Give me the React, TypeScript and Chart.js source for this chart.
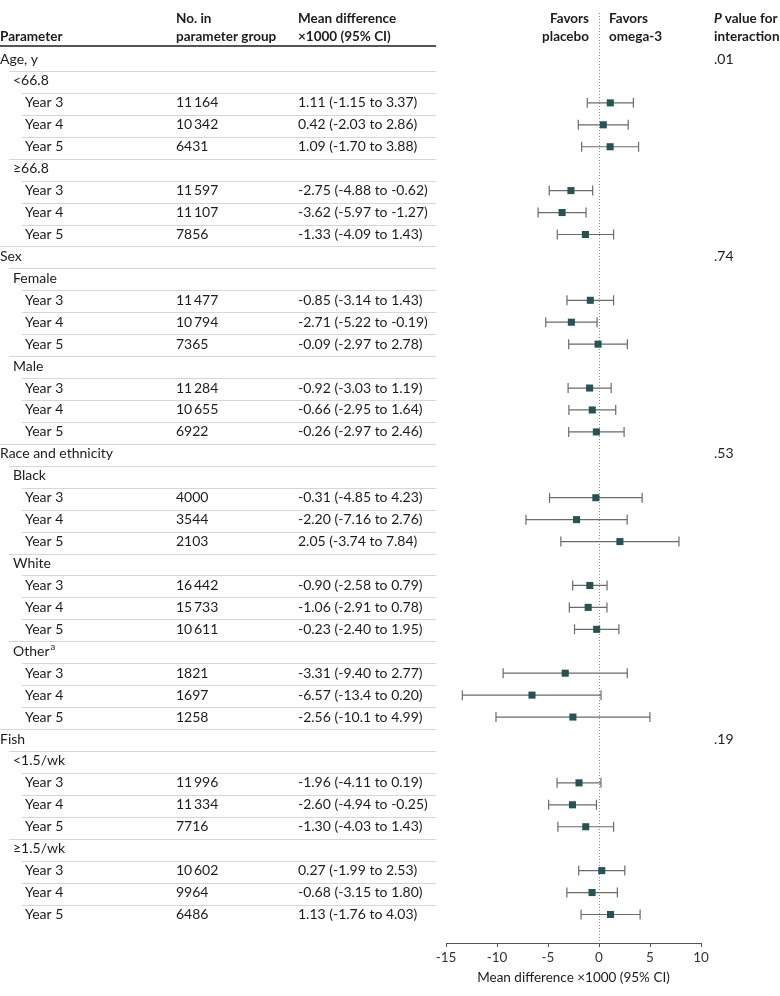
import React, { useEffect, useRef } from "react";
import { Chart, registerables } from "chart.js";

Chart.register(...registerables);

// ---------- data ----------
const rowLabels: string[] = [
  "Age, y", "<66.8", "Year 3", "Year 4", "Year 5", "≥66.8", "Year 3", "Year 4", "Year 5",
  "Sex", "Female", "Year 3", "Year 4", "Year 5", "Male", "Year 3", "Year 4", "Year 5",
  "Race and ethnicity", "Black", "Year 3", "Year 4", "Year 5", "White", "Year 3", "Year 4", "Year 5",
  "Other", "Year 3", "Year 4", "Year 5",
  "Fish", "<1.5/wk", "Year 3", "Year 4", "Year 5", "≥1.5/wk", "Year 3", "Year 4", "Year 5",
];
const rowLevels: number[] = [
  0, 1, 2, 2, 2, 1, 2, 2, 2,
  0, 1, 2, 2, 2, 1, 2, 2, 2,
  0, 1, 2, 2, 2, 1, 2, 2, 2,
  1, 2, 2, 2,
  0, 1, 2, 2, 2, 1, 2, 2, 2,
];
const rowSuperscripts: (string | null)[] = rowLabels.map((l, i) => (i === 27 ? "a" : null));
const groupN: (number | null)[] = [
  null, null, 11164, 10342, 6431, null, 11597, 11107, 7856,
  null, null, 11477, 10794, 7365, null, 11284, 10655, 6922,
  null, null, 4000, 3544, 2103, null, 16442, 15733, 10611,
  null, 1821, 1697, 1258,
  null, null, 11996, 11334, 7716, null, 10602, 9964, 6486,
];
const meanDiff: (number | null)[] = [
  null, null, 1.11, 0.42, 1.09, null, -2.75, -3.62, -1.33,
  null, null, -0.85, -2.71, -0.09, null, -0.92, -0.66, -0.26,
  null, null, -0.31, -2.2, 2.05, null, -0.9, -1.06, -0.23,
  null, -3.31, -6.57, -2.56,
  null, null, -1.96, -2.6, -1.3, null, 0.27, -0.68, 1.13,
];
const ciLow: (number | null)[] = [
  null, null, -1.15, -2.03, -1.7, null, -4.88, -5.97, -4.09,
  null, null, -3.14, -5.22, -2.97, null, -3.03, -2.95, -2.97,
  null, null, -4.85, -7.16, -3.74, null, -2.58, -2.91, -2.4,
  null, -9.4, -13.4, -10.1,
  null, null, -4.11, -4.94, -4.03, null, -1.99, -3.15, -1.76,
];
const ciHigh: (number | null)[] = [
  null, null, 3.37, 2.86, 3.88, null, -0.62, -1.27, 1.43,
  null, null, 1.43, -0.19, 2.78, null, 1.19, 1.64, 2.46,
  null, null, 4.23, 2.76, 7.84, null, 0.79, 0.78, 1.95,
  null, 2.77, 0.2, 4.99,
  null, null, 0.19, -0.25, 1.43, null, 2.53, 1.8, 4.03,
];
const pInteraction: (string | null)[] = rowLabels.map(() => null);
pInteraction[0] = ".01";
pInteraction[9] = ".74";
pInteraction[18] = ".53";
pInteraction[31] = ".19";

const xTickValues: number[] = [-15, -10, -5, 0, 5, 10];
const xAxisTitle = "Mean difference ×1000 (95% CI)";

// ---------- styling ----------
const FONT = "Lato, 'Open Sans', 'DejaVu Sans', sans-serif";
const TEXT = "#1e1b1c";
const MARK = "#255452";
const BAR = "#6b6b6b";
const BODY_PX = 14;

const fmtVal = (v: number) => (Math.abs(v) >= 10 ? v.toFixed(1) : v.toFixed(2));
const fmtN = (n: number) => {
  const s = String(n);
  return s.length > 4 ? s.slice(0, s.length - 3) + "\u2009" + s.slice(s.length - 3) : s;
};

const indentX = [0, 13, 25];
const lineStartX = [0, 9, 22];

const forestPlugin = {
  id: "forestTable",
  beforeDatasetsDraw(chart: any) {
    const ctx: CanvasRenderingContext2D = chart.ctx;
    const xs = chart.scales.x;
    const ys = chart.scales.y;
    const area = chart.chartArea;
    ctx.save();

    // header texts
    ctx.fillStyle = TEXT;
    ctx.textBaseline = "middle";
    ctx.font = `bold 13.5px ${FONT}`;
    ctx.textAlign = "left";
    ctx.fillText("Parameter", 0, 37);
    ctx.fillText("No. in", 176, 19);
    ctx.fillText("parameter group", 176, 37);
    ctx.fillText("Mean difference", 298, 19);
    ctx.fillText("×1000 (95% CI)", 298, 37);
    const x0 = xs.getPixelForValue(0);
    ctx.textAlign = "right";
    ctx.fillText("Favors", x0 - 10, 19);
    ctx.fillText("placebo", x0 - 10, 37);
    ctx.textAlign = "left";
    ctx.fillText("Favors", x0 + 10, 19);
    ctx.fillText("omega-3", x0 + 10, 37);
    ctx.font = `italic bold 13.5px ${FONT}`;
    ctx.fillText("P", 714, 19);
    const pw = ctx.measureText("P ").width;
    ctx.font = `bold 13.5px ${FONT}`;
    ctx.fillText("value for", 714 + pw, 19);
    ctx.fillText("interaction", 714, 37);

    // header rule
    ctx.strokeStyle = "#555";
    ctx.lineWidth = 2;
    ctx.beginPath();
    ctx.moveTo(0, 46);
    ctx.lineTo(436, 46);
    ctx.stroke();

    // row separators
    ctx.strokeStyle = "#d8d8cf";
    ctx.lineWidth = 1;
    for (let i = 0; i < rowLabels.length - 1; i++) {
      const yy = Math.round((ys.getPixelForValue(i) + ys.getPixelForValue(i + 1)) / 2 + 1) + 0.5;
      ctx.beginPath();
      ctx.moveTo(lineStartX[rowLevels[i + 1]], yy);
      ctx.lineTo(436, yy);
      ctx.stroke();
    }

    // row texts
    ctx.font = `${BODY_PX}px ${FONT}`;
    ctx.fillStyle = TEXT;
    ctx.textAlign = "left";
    for (let i = 0; i < rowLabels.length; i++) {
      const yy = ys.getPixelForValue(i);
      const tx = indentX[rowLevels[i]];
      ctx.fillText(rowLabels[i], tx, yy);
      const sup = rowSuperscripts[i];
      if (sup) {
        const w = ctx.measureText(rowLabels[i]).width;
        ctx.font = `9.5px ${FONT}`;
        ctx.fillText(sup, tx + w + 1, yy - 4);
        ctx.font = `${BODY_PX}px ${FONT}`;
      }
      const n = groupN[i];
      if (n != null) ctx.fillText(fmtN(n), 176, yy);
      const m = meanDiff[i], lo = ciLow[i], hi = ciHigh[i];
      if (m != null && lo != null && hi != null) {
        ctx.fillText(`${fmtVal(m)} (${fmtVal(lo)} to ${fmtVal(hi)})`, 298, yy);
      }
      const p = pInteraction[i];
      if (p) ctx.fillText(p, 714, yy);
    }

    // dotted zero line
    ctx.strokeStyle = "#8a8a8a";
    ctx.lineWidth = 1;
    ctx.setLineDash([1, 2]);
    ctx.beginPath();
    ctx.moveTo(Math.round(x0) + 0.5, area.top);
    ctx.lineTo(Math.round(x0) + 0.5, area.bottom);
    ctx.stroke();
    ctx.setLineDash([]);

    // CI bars
    ctx.strokeStyle = BAR;
    ctx.lineWidth = 1.2;
    for (let i = 0; i < rowLabels.length; i++) {
      const lo = ciLow[i], hi = ciHigh[i];
      if (lo == null || hi == null) continue;
      const yy = ys.getPixelForValue(i);
      const xl = xs.getPixelForValue(lo);
      const xh = xs.getPixelForValue(hi);
      ctx.beginPath();
      ctx.moveTo(xl, yy);
      ctx.lineTo(xh, yy);
      ctx.moveTo(xl, yy - 5);
      ctx.lineTo(xl, yy + 5);
      ctx.moveTo(xh, yy - 5);
      ctx.lineTo(xh, yy + 5);
      ctx.stroke();
    }
    ctx.restore();
  },
};

export default function App() {
  const ref = useRef<HTMLCanvasElement | null>(null);
  useEffect(() => {
    if (!ref.current) return;
    const points = meanDiff
      .map((v, i) => (v == null ? null : { x: v, y: i }))
      .filter((p) => p !== null) as { x: number; y: number }[];
    const chart = new Chart(ref.current, {
      type: "scatter",
      data: {
        datasets: [
          {
            data: points,
            pointStyle: "rect",
            pointRadius: 5,
            pointHoverRadius: 5,
            backgroundColor: MARK,
            borderColor: MARK,
            borderWidth: 0,
          },
        ],
      },
      options: {
        animation: false,
        responsive: false,
        devicePixelRatio: 1,
        events: [],
        layout: { padding: { left: 446, right: 79, top: 13, bottom: 0 } },
        plugins: { legend: { display: false }, tooltip: { enabled: false } },
        scales: {
          y: {
            display: false,
            type: "linear",
            reverse: true,
            min: -2.097,
            max: 40.3,
          },
          x: {
            type: "linear",
            min: -15,
            max: 10,
            afterFit: (scale: any) => {
              scale.height = 53;
            },
            afterBuildTicks: (scale: any) => {
              scale.ticks = xTickValues.map((v) => ({ value: v }));
            },
            grid: {
              drawOnChartArea: false,
              drawTicks: true,
              tickLength: 4,
              color: "#555",
            },
            border: { display: true, color: "#555", width: 1 },
            ticks: {
              color: "#333",
              font: { family: FONT, size: 13.5 },
              padding: 3,
              maxRotation: 0,
              autoSkip: false,
            },
            title: {
              display: true,
              text: xAxisTitle,
              color: TEXT,
              font: { family: FONT, size: 13.5 },
              padding: { top: 0, bottom: 10 },
            },
          },
        },
      },
      plugins: [forestPlugin],
    });
    return () => chart.destroy();
  }, []);
  return (
    <div style={{ position: "absolute", left: 0, top: 0, width: 780, height: 996 }}>
      <canvas ref={ref} width={780} height={996} style={{ display: "block" }} />
    </div>
  );
}
